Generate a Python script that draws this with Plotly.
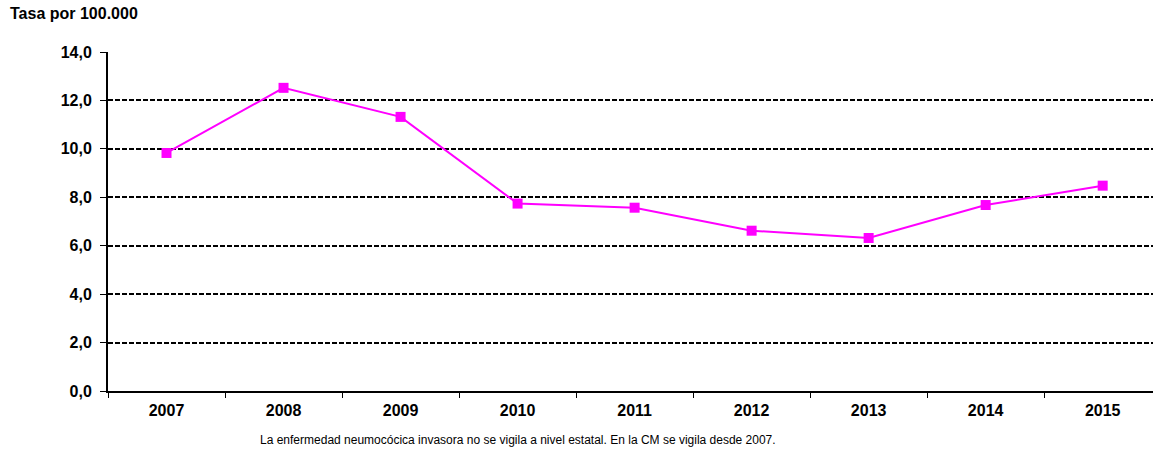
import plotly.graph_objects as go

years = ["2007", "2008", "2009", "2010", "2011", "2012", "2013", "2014", "2015"]
rates = [9.83, 12.52, 11.32, 7.74, 7.57, 6.62, 6.32, 7.68, 8.48]
y_ticks = [0, 2, 4, 6, 8, 10, 12, 14]

FONT = "Arial, Liberation Sans, sans-serif"

fig = go.Figure()
fig.add_trace(go.Scatter(
    x=years, y=rates, mode="lines+markers",
    line=dict(color="#FF00FF", width=2),
    marker=dict(symbol="square", size=10, color="#FF00FF"),
    showlegend=False, cliponaxis=False,
))

W, H = 1153, 450
ML, MT, MB, MR = 108, 52, 59, 0
fig.update_layout(
    width=W, height=H,
    margin=dict(l=ML, r=MR, t=MT, b=MB, autoexpand=False),
    paper_bgcolor="white", plot_bgcolor="white",
    separators=",.",
    font=dict(family=FONT, color="black"),
    xaxis=dict(
        type="category", range=[-0.5, 8.43],
        tickson="boundaries", ticks="outside", ticklen=5, tickcolor="black", tickwidth=1,
        showgrid=False, showline=True, linecolor="black", linewidth=2,
        tickfont=dict(size=16, family=FONT, color="black", weight="bold"),
        ticklabelstandoff=4,
        fixedrange=True,
    ),
    yaxis=dict(
        range=[0, 14], tickvals=y_ticks, tickformat=".1f",
        ticks="outside", ticklen=6, tickcolor="black",
        showgrid=True, gridcolor="black", griddash="5px,2px", gridwidth=1.7,
        showline=True, linecolor="black", linewidth=2, zeroline=False,
        tickfont=dict(size=16, family=FONT, color="black", weight="bold"),
        ticklabelstandoff=5,
        fixedrange=True,
    ),
)

plot_w = W - ML - MR
plot_h = H - MT - MB
fig.add_annotation(
    text="Tasa por 100.000",
    x=(8 - ML) / plot_w, y=(H - MB - 14) / plot_h,
    xref="paper", yref="paper", xanchor="left", yanchor="middle",
    showarrow=False, font=dict(size=16, family=FONT, color="black", weight="bold"),
)
fig.add_annotation(
    text="La enfermedad neumocócica invasora no se vigila a nivel estatal. En la CM se vigila desde 2007.",
    x=(518 - ML) / plot_w, y=(H - MB - 440) / plot_h,
    xref="paper", yref="paper", xanchor="center", yanchor="middle",
    showarrow=False, font=dict(size=12, family=FONT, color="black"),
)

fig.write_html("out.html", config={"displayModeBar": False},
               post_script="document.body.style.margin='0';document.body.style.overflow='hidden';")
